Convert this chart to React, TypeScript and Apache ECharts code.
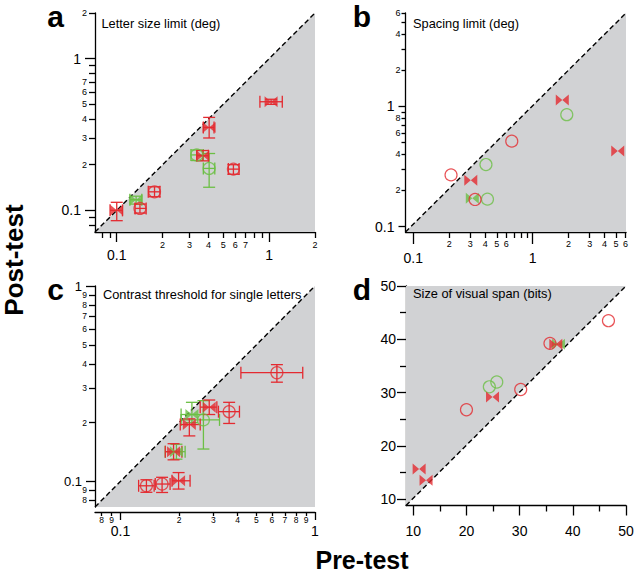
import React, { useEffect, useRef } from 'react';
import * as echarts from 'echarts';

const RED = '#e42a30';
const GREEN = '#6cbf45';
const GRAY = '#d1d2d4';
const FONT = '"Liberation Sans", Arial, sans-serif';
const BOWTIE = 'path://M0,0L10,6L0,12ZM20,0L10,6L20,12Z';

// ---------- Panel a: Letter size limit (deg) ----------
// [pre, post, preLo, preHi, postLo, postHi]
const aRedBowtie = [
  [1.03, 0.52, 0.87, 1.22, 0.50, 0.54],
  [0.404, 0.352, 0.37, 0.435, 0.30, 0.41],
  [0.367, 0.229, 0.335, 0.40, 0.212, 0.248],
  [0.10, 0.10, 0.0904, 0.109, 0.0855, 0.113],
];
const aRedCircle = [
  [0.583, 0.187, 0.54, 0.635, 0.173, 0.20],
  [0.177, 0.1325, 0.161, 0.192, 0.123, 0.143],
  [0.142, 0.103, 0.132, 0.156, 0.096, 0.11],
];
const aGreenCircle = [
  [0.335, 0.232, 0.307, 0.37, 0.213, 0.25],
  [0.404, 0.189, 0.37, 0.44, 0.142, 0.237],
];
const aGreenBowtie = [[0.134, 0.1175, 0.122, 0.146, 0.11, 0.124]];

// ---------- Panel b: Spacing limit (deg) ----------
const bRedBowtie = [[1.77, 1.13], [5.16, 0.425], [0.303, 0.243]];
const bRedCircle = [[0.668, 0.514], [0.207, 0.269], [0.329, 0.168]];
const bGreenCircle = [[1.93, 0.854], [0.406, 0.328], [0.418, 0.169]];
const bGreenBowtie = [[0.312, 0.172]];

// ---------- Panel c: Contrast threshold for single letters ----------
const cRedCircle = [
  [0.637, 0.36, 0.416, 0.865, 0.322, 0.396],
  [0.362, 0.2275, 0.319, 0.409, 0.198, 0.254],
  [0.1637, 0.097, 0.151, 0.18, 0.0878, 0.105],
  [0.136, 0.095, 0.124, 0.149, 0.088, 0.102],
];
const cRedBowtie = [
  [0.286, 0.24, 0.257, 0.313, 0.22, 0.261],
  [0.226, 0.1955, 0.203, 0.257, 0.171, 0.209],
  [0.1875, 0.142, 0.17, 0.207, 0.129, 0.156],
  [0.199, 0.1008, 0.184, 0.228, 0.0914, 0.111],
];
const cGreenCircle = [[0.267, 0.2065, 0.205, 0.323, 0.1465, 0.259]];
const cGreenBowtie = [
  [0.233, 0.22, 0.205, 0.267, 0.2, 0.254],
  [0.194, 0.142, 0.17, 0.215, 0.13, 0.155],
];

// ---------- Panel d: Size of visual span (bits) ----------
const dRedCircle = [[46.7, 43.5], [35.7, 39.25], [30.2, 30.6], [20.0, 26.8]];
const dRedBowtie = [[36.8, 39.1], [24.9, 29.2], [11.1, 15.7], [12.4, 13.6]];
const dGreenCircle = [[24.3, 31.1], [25.7, 32.0]];
const dGreenBowtie = [[37.3, 39.1]];

// ---------- Axis ticks ----------
const aRange = [0.072, 2];
const aMinorTicks = [0.08, 0.09, 0.2, 0.3, 0.4, 0.5, 0.6, 0.7, 0.8, 0.9, 2];
const aMinorLabels = [0.2, 0.3, 0.4, 0.5, 0.6, 0.7, 2];
const majorDecades = [0.1, 1];

const bXRange = [0.086, 6.05];
const bYRange = [0.09, 6];
const bMinorTicks = [0.2, 0.3, 0.4, 0.5, 0.6, 0.7, 0.8, 0.9, 2, 3, 4, 5, 6];
const bXMinorLabels = [0.2, 0.3, 0.4, 0.5, 0.6, 2, 3, 4, 5, 6];
const bYMinorLabels = [0.2, 0.4, 0.6, 0.8, 2, 4, 6];

const cRange = [0.074, 1];
const cMinorTicks = [0.08, 0.09, 0.2, 0.3, 0.4, 0.5, 0.6, 0.7, 0.8, 0.9];
const cMinorLabels = [0.08, 0.09, 0.2, 0.3, 0.4, 0.5, 0.6, 0.7, 0.8, 0.9];

const dXRange = [8.63, 50];
const dYRange = [8.85, 50];
const dMinorTicks = [15, 25, 35, 45];
const dMajorTicks = [10, 20, 30, 40, 50];

const L = (v: number) => Math.log10(v);

type AxisSpec = {
  log: boolean;
  range: number[];
  minorTicks: number[];
  minorLabels: number[];
  majorTicks: number[];
  minorLen: number;
  majorLen: number;
  minorMargin: number;
  majorMargin: number;
  minorFont: number;
  majorFont: number;
  offset?: number;
};

function makeAxes(s: AxisSpec, gridIndex: number, dim: 'x' | 'y') {
  const t = (v: number) => (s.log ? L(v) : v);
  const fmtMinor = (val: number) => {
    if (!s.log) return String(Math.round(val));
    const e = Math.floor(val + 1e-9);
    return String(Math.round(Math.pow(10, val) / Math.pow(10, e)));
  };
  const fmtMajor = (val: number) =>
    s.log ? String(Number(Math.pow(10, val).toPrecision(1))) : String(Math.round(val));
  const lineStyle = { color: '#000', width: 1.3 };
  const base: any = {
    type: 'value',
    gridIndex,
    position: dim === 'x' ? 'bottom' : 'left',
    min: t(s.range[0]),
    max: t(s.range[1]),
    splitLine: { show: false },
    offset: s.offset || 0,
  };
  return [
    {
      ...base,
      axisLine: { show: true, onZero: false, lineStyle },
      axisTick: { show: true, customValues: s.minorTicks.map(t), length: s.minorLen, lineStyle },
      axisLabel: {
        show: s.minorLabels.length > 0,
        customValues: s.minorLabels.map(t),
        formatter: fmtMinor,
        margin: s.minorMargin,
        fontSize: s.minorFont,
        fontFamily: FONT,
        color: '#000',
      },
    },
    {
      ...base,
      axisLine: { show: false, onZero: false },
      axisTick: { show: true, customValues: s.majorTicks.map(t), length: s.majorLen, lineStyle },
      axisLabel: {
        show: true,
        customValues: s.majorTicks.map(t),
        formatter: fmtMajor,
        margin: s.majorMargin,
        fontSize: s.majorFont,
        fontFamily: FONT,
        color: '#000',
      },
    },
  ];
}

type Groups = { rc: number[][]; rb: number[][]; gc: number[][]; gb: number[][] };

const panels = [
  {
    grid: { left: 95, top: 13, width: 220, height: 219 },
    shade: 'lower',
    x: { log: true, range: aRange, minorTicks: aMinorTicks, minorLabels: aMinorLabels, majorTicks: majorDecades, minorLen: 6, majorLen: 10, minorMargin: 8, majorMargin: 16, minorFont: 9, majorFont: 14 },
    y: { log: true, range: aRange, minorTicks: aMinorTicks, minorLabels: aMinorLabels, majorTicks: majorDecades, minorLen: 6, majorLen: 10, minorMargin: 8, majorMargin: 14, minorFont: 9, majorFont: 14 },
    groups: { rc: aRedCircle, rb: aRedBowtie, gc: aGreenCircle, gb: aGreenBowtie } as Groups,
    errors: true,
  },
  {
    grid: { left: 405.5, top: 13, width: 220.5, height: 219 },
    shade: 'lower',
    x: { log: true, range: bXRange, minorTicks: bMinorTicks, minorLabels: bXMinorLabels, majorTicks: majorDecades, minorLen: 6, majorLen: 12, minorMargin: 7, majorMargin: 19, minorFont: 9, majorFont: 14 },
    y: { log: true, range: bYRange, minorTicks: bMinorTicks, minorLabels: bYMinorLabels, majorTicks: majorDecades, minorLen: 4, majorLen: 7, minorMargin: 5, majorMargin: 11, minorFont: 9, majorFont: 14 },
    groups: { rc: bRedCircle, rb: bRedBowtie, gc: bGreenCircle, gb: bGreenBowtie } as Groups,
    errors: false,
  },
  {
    grid: { left: 95, top: 286, width: 220, height: 221 },
    shade: 'lower',
    x: { log: true, range: cRange, minorTicks: cMinorTicks, minorLabels: cMinorLabels, majorTicks: majorDecades, minorLen: 4, majorLen: 8, minorMargin: 3, majorMargin: 12, minorFont: 8.5, majorFont: 14, offset: 5 },
    y: { log: true, range: cRange, minorTicks: cMinorTicks, minorLabels: cMinorLabels, majorTicks: majorDecades, minorLen: 6, majorLen: 9, minorMargin: 8, majorMargin: 13, minorFont: 8.5, majorFont: 13 },
    groups: { rc: cRedCircle, rb: cRedBowtie, gc: cGreenCircle, gb: cGreenBowtie } as Groups,
    errors: true,
  },
  {
    grid: { left: 406, top: 286, width: 220, height: 219.5 },
    shade: 'upper',
    x: { log: false, range: dXRange, minorTicks: dMinorTicks, minorLabels: [], majorTicks: dMajorTicks, minorLen: 6, majorLen: 10, minorMargin: 8, majorMargin: 18, minorFont: 9, majorFont: 14 },
    y: { log: false, range: dYRange, minorTicks: dMinorTicks, minorLabels: [], majorTicks: dMajorTicks, minorLen: 6, majorLen: 9, minorMargin: 8, majorMargin: 10, minorFont: 9, majorFont: 14 },
    groups: { rc: dRedCircle, rb: dRedBowtie, gc: dGreenCircle, gb: dGreenBowtie } as Groups,
    errors: false,
  },
];

const titles = [
  { text: 'Letter size limit (deg)', x: 101.5, y: 23 },
  { text: 'Spacing limit (deg)', x: 413, y: 23 },
  { text: 'Contrast threshold for single letters', x: 103, y: 294.5 },
  { text: 'Size of visual span (bits)', x: 413, y: 293.5 },
];

const letters = [
  { text: 'a', x: 55.5, y: 16 },
  { text: 'b', x: 362, y: 16 },
  { text: 'c', x: 55.5, y: 289 },
  { text: 'd', x: 362, y: 289 },
];

function buildOption() {
  const xAxis: any[] = [];
  const yAxis: any[] = [];
  const grid: any[] = [];
  const series: any[] = [];

  panels.forEach((p, i) => {
    grid.push({ ...p.grid, containLabel: false, outerBoundsMode: 'none' });
    xAxis.push(...makeAxes(p.x as AxisSpec, i, 'x'));
    yAxis.push(...makeAxes(p.y as AxisSpec, i, 'y'));
    const tx = (v: number) => (p.x.log ? L(v) : v);
    const ty = (v: number) => (p.y.log ? L(v) : v);
    const x0 = tx(p.x.range[0]);
    const x1 = tx(p.x.range[1]);
    const y0 = ty(p.y.range[0]);
    const y1 = ty(p.y.range[1]);
    const ax = { xAxisIndex: 2 * i, yAxisIndex: 2 * i };
    const corners =
      p.shade === 'lower'
        ? [[x0, y0], [x1, y0], [x1, y1]]
        : [[x0, y0], [x0, y1], [x1, y1]];

    series.push({
      type: 'custom',
      ...ax,
      silent: true,
      z: 1,
      data: [[x0, y0]],
      renderItem: (_params: any, api: any) => ({
        type: 'polygon',
        shape: { points: corners.map((c) => api.coord(c)) },
        style: { fill: GRAY },
      }),
    });
    series.push({
      type: 'line',
      ...ax,
      silent: true,
      z: 2,
      symbol: 'none',
      data: [[x0, y0], [x1, y1]],
      lineStyle: { color: '#000', width: 1.4, type: [5, 3] },
    });

    const order: [keyof Groups, string, boolean][] = [
      ['gc', GREEN, false],
      ['gb', GREEN, true],
      ['rc', RED, false],
      ['rb', RED, true],
    ];
    order.forEach(([key, color, bow]) => {
      const pts = p.groups[key];
      if (!pts.length) return;
      if (p.errors) {
        series.push({
          type: 'custom',
          ...ax,
          silent: true,
          z: 3,
          data: pts.map((d) => [tx(d[0]), ty(d[1]), tx(d[2]), tx(d[3]), ty(d[4]), ty(d[5])]),
          renderItem: (_params: any, api: any) => {
            const x = api.value(0);
            const y = api.value(1);
            const c = api.coord([x, y]);
            const xl = api.coord([api.value(2), y])[0];
            const xh = api.coord([api.value(3), y])[0];
            const yl = api.coord([x, api.value(4)])[1];
            const yh = api.coord([x, api.value(5)])[1];
            const h = 6;
            const style = { stroke: color, lineWidth: 1.3 };
            const ln = (x1: number, y1: number, x2: number, y2: number) => ({
              type: 'line',
              shape: { x1, y1, x2, y2 },
              style,
            });
            return {
              type: 'group',
              children: [
                ln(xl, c[1], xh, c[1]),
                ln(xl, c[1] - h, xl, c[1] + h),
                ln(xh, c[1] - h, xh, c[1] + h),
                ln(c[0], yl, c[0], yh),
                ln(c[0] - h, yl, c[0] + h, yl),
                ln(c[0] - h, yh, c[0] + h, yh),
              ],
            };
          },
        });
      }
      series.push({
        type: 'scatter',
        ...ax,
        silent: true,
        z: 4,
        symbol: bow ? BOWTIE : 'circle',
        symbolSize: bow ? [13, 11] : 12,
        data: pts.map((d) => [tx(d[0]), ty(d[1])]),
        itemStyle: bow
          ? { color }
          : { color: 'rgba(0,0,0,0)', borderColor: color, borderWidth: 1.2 },
      });
    });
  });

  const graphic: any[] = [];
  titles.forEach((t) =>
    graphic.push({
      type: 'text',
      x: t.x,
      y: t.y,
      z: 10,
      silent: true,
      style: { text: t.text, fill: '#000', fontSize: 12.8, fontFamily: FONT, align: 'left', verticalAlign: 'middle' },
    })
  );
  letters.forEach((t) =>
    graphic.push({
      type: 'text',
      x: t.x,
      y: t.y,
      silent: true,
      style: { text: t.text, fill: '#000', fontSize: 30, fontWeight: 'bold', fontFamily: FONT, align: 'center', verticalAlign: 'middle' },
    })
  );
  graphic.push({
    type: 'text',
    x: 14,
    y: 260,
    rotation: Math.PI / 2,
    silent: true,
    style: { text: 'Post-test', fill: '#000', fontSize: 26, fontWeight: 'bold', fontFamily: FONT, align: 'center', verticalAlign: 'middle' },
  });
  graphic.push({
    type: 'text',
    x: 362,
    y: 560,
    silent: true,
    style: { text: 'Pre-test', fill: '#000', fontSize: 25, fontWeight: 'bold', fontFamily: FONT, align: 'center', verticalAlign: 'middle' },
  });

  return {
    animation: false,
    backgroundColor: '#fff',
    grid,
    xAxis,
    yAxis,
    series,
    graphic,
  };
}

export default function App() {
  const ref = useRef<HTMLDivElement>(null);
  useEffect(() => {
    const chart = echarts.init(ref.current!, null, { renderer: 'svg' });
    chart.setOption(buildOption() as any);
    return () => chart.dispose();
  }, []);
  return (
    <div
      ref={ref}
      style={{ position: 'absolute', left: 0, top: 0, width: 635, height: 576, background: '#fff' }}
    />
  );
}
